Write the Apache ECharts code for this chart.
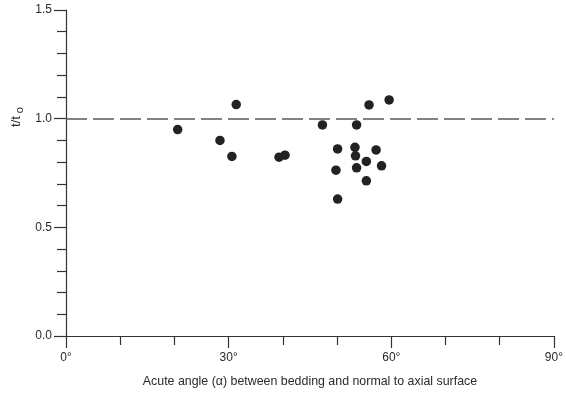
<!DOCTYPE html>
<html>
<head>
<meta charset="utf-8">
<script src="https://cdn.jsdelivr.net/npm/echarts@6/dist/echarts.min.js"></script>
<style>
  html, body { margin: 0; padding: 0; background: #fff; }
  #chart { width: 566px; height: 394px; }
</style>
</head>
<body>
<div id="chart"></div>
<script>
// Acute angle between bedding and normal to axial surface (degrees)
const angles = [20.6, 31.4, 28.4, 30.6, 39.3, 40.4, 55.9, 59.6, 47.3, 53.6,
                50.1, 53.3, 53.4, 57.2, 55.4, 49.8, 53.6, 58.2, 55.4, 50.1];
// Thickness ratio t/t0 for each measurement
const ratios = [0.95, 1.065, 0.90, 0.826, 0.823, 0.832, 1.063, 1.086, 0.971, 0.971,
                0.861, 0.868, 0.829, 0.856, 0.803, 0.763, 0.774, 0.783, 0.714, 0.630];
// Reference level t = t0
const referenceLevel = 1.0;
const xTicks = [0, 30, 60, 90];
const yTicks = [0.0, 0.5, 1.0, 1.5];

const points = angles.map((a, i) => [a, ratios[i]]);
const axisColor = '#333';
const textColor = '#2a2a2a';
const font = 'Liberation Sans';

const chart = echarts.init(document.getElementById('chart'), null, { renderer: 'canvas' });
chart.setOption({
  backgroundColor: '#fff',
  animation: false,
  grid: { left: 66, right: 10, top: 10, bottom: 58 },
  xAxis: {
    type: 'value',
    min: xTicks[0], max: xTicks[xTicks.length - 1], interval: 30,
    name: 'Acute angle (\u03b1) between bedding and normal to axial surface',
    nameLocation: 'middle', nameGap: 40,
    nameTextStyle: { fontFamily: font, fontSize: 12.4, color: textColor },
    axisLine: { lineStyle: { color: axisColor, width: 1.2 } },
    axisTick: { length: 12, lineStyle: { color: axisColor, width: 1.2 } },
    minorTick: { show: true, splitNumber: 3, length: 9, lineStyle: { color: axisColor, width: 1.2 } },
    splitLine: { show: false },
    axisLabel: { formatter: v => v + '\u00b0', margin: 16, fontFamily: font, fontSize: 12, color: textColor }
  },
  yAxis: {
    type: 'value',
    min: yTicks[0], max: yTicks[yTicks.length - 1], interval: 0.5,
    axisLine: { show: true, lineStyle: { color: axisColor, width: 1.2 } },
    axisTick: { show: true, length: 12, lineStyle: { color: axisColor, width: 1.2 } },
    minorTick: { show: true, splitNumber: 5, length: 9, lineStyle: { color: axisColor, width: 1.2 } },
    splitLine: { show: false },
    axisLabel: { formatter: v => v.toFixed(1), margin: 14, fontFamily: font, fontSize: 12, color: textColor }
  },
  graphic: [{
    type: 'text',
    x: 16, y: 117,
    rotation: Math.PI / 2,
    style: {
      text: '{a|t/t}{b|o}',
      align: 'center', verticalAlign: 'middle',
      fill: textColor,
      rich: {
        a: { fontFamily: font, fontSize: 13, fill: textColor },
        b: { fontFamily: font, fontSize: 11, fill: textColor, padding: [7, 0, 0, 3] }
      }
    }
  }],
  series: [{
    type: 'scatter',
    data: points,
    symbol: 'circle',
    symbolSize: 9.5,
    itemStyle: { color: '#222', opacity: 1 },
    markLine: {
      silent: true,
      symbol: 'none',
      label: { show: false },
      lineStyle: { color: '#5a5a5a', type: [21, 6], width: 1.6 },
      data: [{ yAxis: referenceLevel }]
    }
  }]
});
</script>
</body>
</html>
